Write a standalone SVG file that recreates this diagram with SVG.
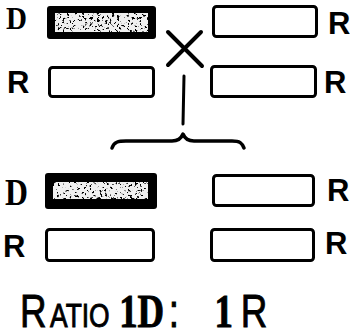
<svg xmlns="http://www.w3.org/2000/svg" width="350" height="336" viewBox="0 0 350 336">
  <style>
    .bg { fill: #ffffff; }
    .box { fill: #ffffff; stroke: #000000; stroke-width: 3; }
    .dbox { fill: #000000; }
    .dinner { fill: #f0f0f0; }
    .speck { fill: #000000; filter: url(#speckle); }
    .rlab { font-family: "Liberation Sans", Arial, sans-serif; font-weight: bold; font-size: 31px; fill: #000000; }
    .dlab { font-family: "Liberation Serif", "Times New Roman", serif; font-weight: bold; fill: #000000; }
    .conn { fill: none; stroke: #000000; stroke-linecap: round; stroke-linejoin: round; }
    .ratio { font-family: "Liberation Sans", Arial, sans-serif; fill: #000000; stroke: #000000; stroke-width: 0.9; }
    .serb { font-family: "Liberation Serif", "Times New Roman", serif; font-weight: bold; }
  </style>
  <defs>
    <filter id="speckle" x="0" y="0" width="100%" height="100%">
      <feTurbulence type="fractalNoise" baseFrequency="0.4" numOctaves="2" seed="7" result="n"/>
      <feColorMatrix in="n" type="matrix" values="0 0 0 0 0  0 0 0 0 0  0 0 0 0 0  12 0 0 0 -7.1" result="dots"/>
      <feComposite in="dots" in2="SourceGraphic" operator="in"/>
    </filter>
  </defs>
  <rect class="bg" x="0" y="0" width="350" height="336"/>

  <!-- Parent generation -->
  <g id="parent1-D">
    <text class="dlab" x="6" y="29" font-size="31" textLength="21" lengthAdjust="spacingAndGlyphs">D</text>
    <rect class="dbox" x="47" y="6" width="109" height="33" rx="3"/>
    <rect class="dinner" x="55" y="13" width="93" height="19"/>
    <rect class="speck" x="55" y="13" width="93" height="19"/>
  </g>
  <g id="parent1-R">
    <text class="rlab" x="7" y="93">R</text>
    <rect class="box" x="49.5" y="67.5" width="104" height="29" rx="3"/>
  </g>
  <g id="parent2-R1">
    <rect class="box" x="213.5" y="6.5" width="103" height="30" rx="3"/>
    <text class="rlab" x="328" y="34">R</text>
  </g>
  <g id="parent2-R2">
    <rect class="box" x="211.5" y="66.5" width="104" height="30" rx="3"/>
    <text class="rlab" x="324" y="93">R</text>
  </g>

  <!-- Offspring -->
  <g id="child1-D">
    <text class="dlab" x="5" y="205" font-size="38" textLength="23" lengthAdjust="spacingAndGlyphs">D</text>
    <rect class="dbox" x="45" y="173" width="112" height="36" rx="3"/>
    <rect class="dinner" x="53" y="182" width="95" height="17"/>
    <rect class="speck" x="53" y="182" width="95" height="17"/>
  </g>
  <g id="child1-R">
    <text class="rlab" x="3" y="257">R</text>
    <rect class="box" x="46.5" y="229.5" width="107" height="31" rx="3"/>
  </g>
  <g id="child2-R1">
    <rect class="box" x="213.5" y="175.5" width="100" height="30" rx="3"/>
    <text class="rlab" x="327" y="201">R</text>
  </g>
  <g id="child2-R2">
    <rect class="box" x="211.5" y="229.5" width="102" height="31" rx="3"/>
    <text class="rlab" x="325" y="254">R</text>
  </g>

  <!-- Cross, line and brace -->
  <g id="connectors">
    <path class="conn" stroke-width="4" d="M168,32 L202,66 M201,32 L168,65"/>
    <path class="conn" stroke-width="3" d="M184,76 L183,124"/>
    <path class="conn" stroke-width="3.5" d="M112,148 C114,142 118,141 126,141 L172,141 C178,141 181,139 183,134 C185,139 188,141 194,141 L232,141 C240,141 242,143 244,148"/>
  </g>

  <!-- Ratio caption -->
  <g id="caption">
    <text class="ratio" transform="scale(0.8 1)" y="327"><tspan x="25" font-size="46">R</tspan><tspan x="62.5" font-size="33">ATIO </tspan><tspan class="serb" x="149" font-size="46">1D</tspan><tspan x="211" font-size="46">: </tspan><tspan class="serb" x="268" font-size="46">1</tspan><tspan x="301" font-size="46">R</tspan></text>
  </g>
</svg>
